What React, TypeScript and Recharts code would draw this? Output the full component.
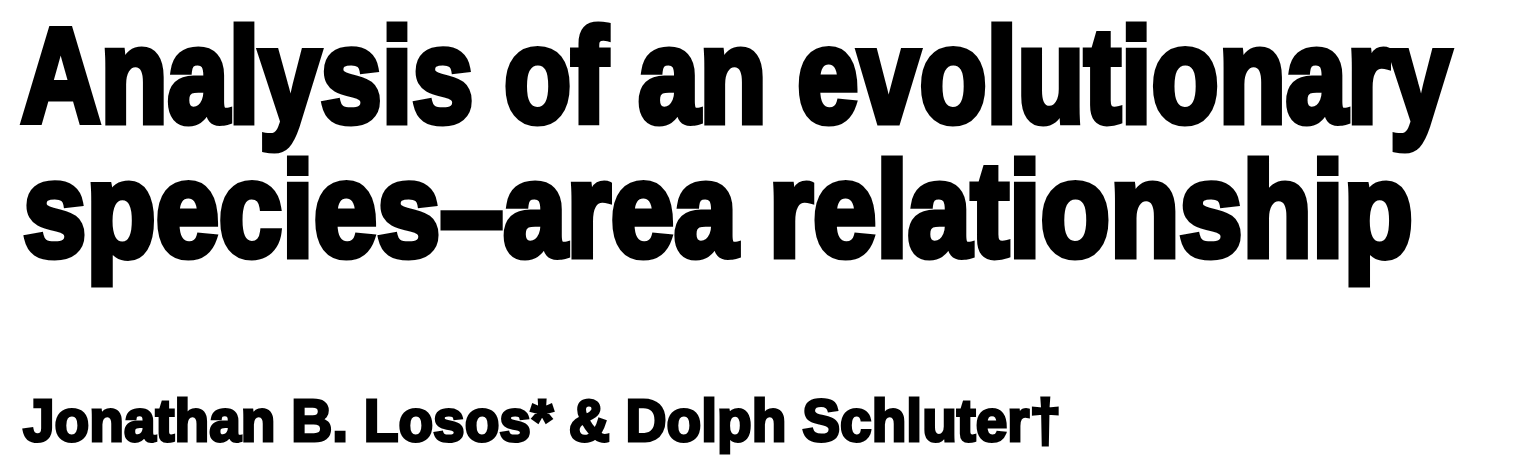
import React from 'react';
import { Surface, Layer } from 'recharts';

const titleLines = ['Analysis of an evolutionary', 'species\u2013area relationship'];
const authorsText = 'Jonathan B. Losos* & Dolph Schluter\u2020';

const FONT = '"Liberation Sans Narrow", "Liberation Sans", Arial, sans-serif';

export default function App() {
  return (
    <div style={{ position: 'absolute', left: 0, top: 0, width: 1532, height: 462, background: '#fff' }}>
      <Surface width={1532} height={462} viewBox={{ x: 0, y: 0, width: 1532, height: 462 }}>
        <Layer>
          <text x={21} y={122} fontFamily={FONT} fontWeight={700} fontSize={134}
            textLength={1430} lengthAdjust="spacingAndGlyphs" fill="#000"
            stroke="#000" strokeWidth={7}>{titleLines[0]}</text>
          <text x={23} y={256} fontFamily={FONT} fontWeight={700} fontSize={134}
            textLength={1390} lengthAdjust="spacingAndGlyphs" fill="#000"
            stroke="#000" strokeWidth={7}>{titleLines[1]}</text>
          <text x={23} y={441} fontFamily={FONT} fontWeight={700} fontSize={60}
            textLength={1038} lengthAdjust="spacingAndGlyphs" fill="#000"
            stroke="#000" strokeWidth={3}>{authorsText}</text>
        </Layer>
      </Surface>
    </div>
  );
}
